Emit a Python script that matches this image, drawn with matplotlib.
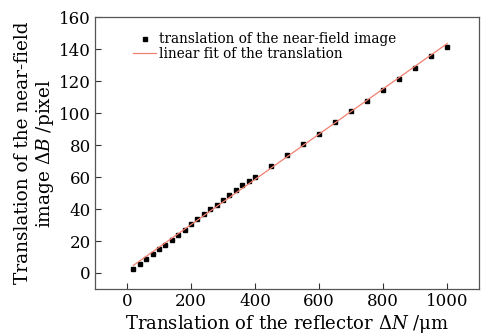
import numpy as np
import matplotlib
matplotlib.use("Agg")
import matplotlib.pyplot as plt

# reflector translation (um) and measured image translation (pixel)
dn_um = [20, 40, 60, 80, 100, 120, 140, 160, 180, 200, 220, 240, 260, 280,
         300, 320, 340, 360, 380, 400, 450, 500, 550, 600, 650, 700, 750,
         800, 850, 900, 950, 1000]
db_px = [2.7, 5.6, 9.0, 11.7, 14.8, 17.7, 20.6, 23.7, 26.9, 30.8, 33.5, 36.9,
         39.8, 42.7, 45.8, 48.7, 51.7, 54.8, 57.9, 60.0, 66.9, 74.0, 80.8,
         86.8, 94.8, 101.6, 107.8, 114.4, 121.6, 128.5, 135.7, 141.3]
x_ticks = [0, 200, 400, 600, 800, 1000]
y_ticks = [0, 20, 40, 60, 80, 100, 120, 140, 160]

plt.rcParams['font.family'] = ['DejaVu Serif']
plt.rcParams['mathtext.fontset'] = 'dejavuserif'

fig = plt.figure(figsize=(4.89, 3.36), dpi=100)
ax = fig.add_axes([0.194, 0.140, 0.786, 0.808])

# linear fit of the measured points
k, b = np.polyfit(dn_um, db_px, 1)
xf = np.array([dn_um[0], dn_um[-1]])
ax.plot(dn_um, db_px, 's', color='black', markersize=3,
        label='translation of the near-field image')
ax.plot(xf, k * xf + b, '-', color='#f08070', linewidth=0.9,
        label='linear fit of the translation')

ax.set_xlim(-100, 1100)
ax.set_ylim(-10, 160)
ax.set_xticks(x_ticks)
ax.set_yticks(y_ticks)
ax.tick_params(direction='in', length=4, width=0.8, labelsize=12, pad=3,
               color='#333333')
for s in ax.spines.values():
    s.set_color('#555555')
    s.set_linewidth(0.9)

ax.set_xlabel(r'Translation of the reflector $\Delta N$ /μm',
              fontsize=13, labelpad=2)
ax.set_ylabel('Translation of the near-field\n' + r'image $\Delta B$ /pixel',
              fontsize=13.3, labelpad=2, linespacing=1.1)

ax.legend(loc='upper left', frameon=False, fontsize=9.8, handlelength=1.7,
          handletextpad=0.2, borderaxespad=0.3, labelspacing=0.05,
          bbox_to_anchor=(0.075, 0.98), markerscale=1.0)

fig.savefig('out.png', dpi=100)
